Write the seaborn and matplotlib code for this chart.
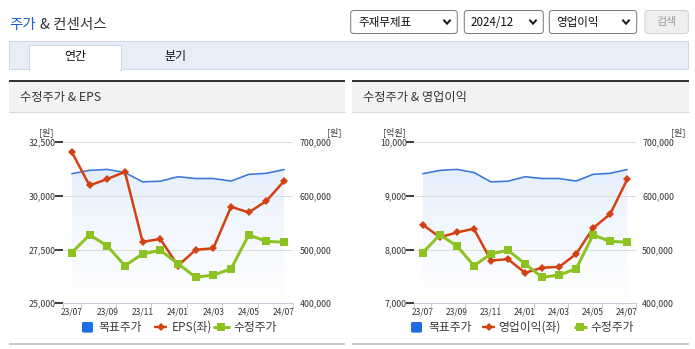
import numpy as np
import pandas as pd
import matplotlib
matplotlib.use('Agg')
import matplotlib.pyplot as plt
import seaborn as sns
from matplotlib.patches import Rectangle, FancyBboxPatch, PathPatch
from matplotlib.colors import LinearSegmentedColormap

# ---------------- data ----------------
months = ['23/07', '23/08', '23/09', '23/10', '23/11', '23/12', '24/01',
          '24/02', '24/03', '24/04', '24/05', '24/06', '24/07']
eps = [32040, 30490, 30790, 31120, 27865, 27995, 26750, 27490, 27565,
       29500, 29230, 29770, 30700]
op_income = [8465, 8230, 8320, 8390, 7796, 7823, 7568, 7663, 7678,
             7917, 8402, 8662, 9308]
adj_price = [494500, 527500, 507000, 470000, 492000, 498800, 473700,
             448500, 452600, 464300, 527500, 515300, 514000]
target_price = [641500, 647700, 649500, 643700, 626300, 627500, 635900,
                632500, 632500, 627800, 640300, 642200, 649300]

eps_ticks = [25000, 27500, 30000, 32500]
op_ticks = [7000, 8000, 9000, 10000]
price_ticks = [400000, 500000, 600000, 700000]

legend_labels_left = ['목표주가', 'EPS(좌)', '수정주가']
legend_labels_right = ['목표주가', '영업이익(좌)', '수정주가']

RED = '#d2410f'
GREEN = '#8cc322'
BLUE = '#3b76da'
BLUE_LEG = '#1f6de2'
TXT = '#333333'
AXC = '#c5cdd9'

sns.set_theme(style='white')
plt.rcParams['font.family'] = ['Noto Sans CJK KR', 'DejaVu Sans']
plt.rcParams['axes.unicode_minus'] = False

W, H = 695, 349
fig = plt.figure(figsize=(W / 100, H / 100), dpi=100)
fig.patch.set_facecolor('white')

bg = fig.add_axes([0, 0, 1, 1])
bg.set_xlim(0, W)
bg.set_ylim(H, 0)
bg.axis('off')


def pt(px):
    return px * 0.72


# ---------------- page header ----------------
bg.text(9, 25, '주가', color='#1d5fd4', fontsize=pt(14.5), va='center', ha='left')
bg.text(40, 25, '& 컨센서스', color=TXT, fontsize=pt(14.5), va='center', ha='left')

boxes = [(350.7, 457.3, '주재무제표', 358.3, 447), (464.3, 543.3, '2024/12', 471, 533),
         (549.3, 636.7, '영업이익', 556, 626)]
for bx0, bx1, label, tx, cx in boxes:
    bg.add_patch(FancyBboxPatch((bx0, 10.5), bx1 - bx0, 23, boxstyle='round,pad=0,rounding_size=3',
                                facecolor='white', edgecolor='#7a7a7a', linewidth=pt(1)))
    bg.text(tx, 22.3, label, fontsize=pt(11.6), color='#111111', va='center', ha='left')
    cy = 21.7
    bg.plot([cx - 3.6, cx, cx + 3.6], [cy - 2.0, cy + 2.0, cy - 2.0], color='#1a1a1a',
            lw=pt(2.0), solid_joinstyle='miter', solid_capstyle='butt')
bg.add_patch(FancyBboxPatch((645, 10.5), 43.3, 23, boxstyle='round,pad=0,rounding_size=3',
                            facecolor='#efefef', edgecolor='#d2d2d2', linewidth=pt(1)))
bg.text(666.7, 22.3, '검색', fontsize=pt(11), color='#9a9a9a', va='center', ha='center')

# tab bar
bg.add_patch(Rectangle((9, 40.7), 679.3, 28.6, facecolor='#e8eef9', edgecolor='#cfd8e6', linewidth=pt(1)))
bg.add_patch(Rectangle((29.3, 45), 91.4, 25, facecolor='white', edgecolor='#cfd8e6', linewidth=pt(1)))
bg.add_patch(Rectangle((29.8, 68.5), 90.4, 2, facecolor='white', edgecolor='none'))
bg.text(75.3, 56.7, '연간', fontsize=pt(12), color='#111111', va='center', ha='center')
bg.text(175.3, 56.7, '분기', fontsize=pt(12), color='#111111', va='center', ha='center')

# panels
for px0, px1, title in [(9, 345, '수정주가 & EPS'), (352, 689, '수정주가 & 영업이익')]:
    bg.add_patch(Rectangle((px0, 82), px1 - px0, 30, facecolor='#f2f2f2', edgecolor='none'))
    bg.add_patch(Rectangle((px0, 80), px1 - px0, 2.2, facecolor='#333333', edgecolor='none'))
    bg.plot([px0, px1], [112.3, 112.3], color='#d9d9d9', lw=pt(1))
    bg.add_patch(Rectangle((px0, 342.5), px1 - px0, 2.8, facecolor='#c9c9c9', edgecolor='none'))
    bg.text(px0 + 11, 97, title, fontsize=pt(12.2), color=TXT, va='center', ha='left')


# ---------------- charts ----------------
def chart(x0, x1, left_vals, left_ticks, left_unit, unit_left_x, unit_right_x, leg, labels):
    top, bot = 142.3, 303.3
    ax0 = fig.add_axes([x0 / W, 1 - bot / H, (x1 - x0) / W, (bot - top) / H])
    ax0.set_facecolor('none')
    idx = np.arange(len(months))
    df = pd.DataFrame({'idx': idx, 'left': left_vals, 'price': adj_price, 'target': target_price})

    # gradient area under target price
    poly = ax0.fill_between(idx, target_price, price_ticks[0], facecolor='none', edgecolor='none')
    patch = PathPatch(poly.get_paths()[0], transform=ax0.transData, facecolor='none', edgecolor='none')
    ax0.add_patch(patch)
    cmap = LinearSegmentedColormap.from_list('g', ['#ffffff', '#f2f7fe', '#ddeafb'])
    grad = np.linspace(0, 1, 256).reshape(-1, 1)
    im = ax0.imshow(grad, extent=[-0.5, 12.5, price_ticks[0], price_ticks[-1]], origin='lower',
                    aspect='auto', cmap=cmap, zorder=0.2, interpolation='bilinear')
    im.set_clip_path(patch)
    sns.lineplot(data=df, x='idx', y='target', ax=ax0, color=BLUE, linewidth=pt(1.6), zorder=3)

    ax0.set_ylim(price_ticks[0], price_ticks[-1])
    ax0.set_yticks(price_ticks)
    ax0.set_axisbelow(True)
    ax0.yaxis.grid(True, color='#dcdcdc', linewidth=pt(1))
    ax0.tick_params(axis='y', left=False, right=False, labelleft=False, labelright=False)
    ax0.set_xticks(idx[::2])
    ax0.set_xticklabels(months[::2])
    ax0.set_xticks([-0.5] + list(np.arange(0.5, 13, 2)), minor=True)
    ax0.tick_params(axis='x', which='major', length=0, pad=pt(4), labelsize=pt(8.4), labelcolor=TXT)
    ax0.tick_params(axis='x', which='minor', length=pt(4.5), width=pt(1), color=AXC, direction='out', bottom=True)
    for s in ['top', 'left', 'right']:
        ax0.spines[s].set_visible(False)
    ax0.spines['bottom'].set_color(AXC)
    ax0.spines['bottom'].set_linewidth(pt(1))
    ax0.set_xlabel('')
    ax0.set_ylabel('')

    # left-axis series (EPS / operating income)
    ax1 = ax0.twinx()
    sns.lineplot(data=df, x='idx', y='left', ax=ax1, color=RED, linewidth=pt(2.5),
                 marker='D', markersize=3.9, markeredgewidth=0)
    ax1.set_ylim(left_ticks[0], left_ticks[-1])
    ax1.yaxis.tick_left()
    ax1.set_yticks(left_ticks)
    ax1.set_yticklabels([f'{v:,}' for v in left_ticks])
    ax1.tick_params(axis='y', length=0, pad=pt(7.5), labelsize=pt(8.8), labelcolor=TXT)
    ax1.set_ylabel('')
    for s in ax1.spines.values():
        s.set_visible(False)

    # right-axis series (adjusted price)
    ax2 = ax0.twinx()
    sns.lineplot(data=df, x='idx', y='price', ax=ax2, color=GREEN, linewidth=pt(3),
                 marker='s', markersize=5.8, markeredgewidth=0)
    ax2.set_ylim(price_ticks[0], price_ticks[-1])
    ax2.yaxis.tick_right()
    ax2.set_yticks(price_ticks)
    ax2.set_yticklabels([f'{v:,}' for v in price_ticks])
    ax2.tick_params(axis='y', length=0, pad=pt(6.5), labelsize=pt(8.8), labelcolor=TXT)
    ax2.set_ylabel('')
    for s in ax2.spines.values():
        s.set_visible(False)

    ax0.set_xlim(-0.5, 12.5)

    # unit labels
    bg.text(unit_left_x, 132, left_unit, fontsize=pt(9), color=TXT, va='center', ha='right')
    bg.text(unit_right_x, 132.5, '[원]', fontsize=pt(9), color=TXT, va='center', ha='right')

    # legend
    (sq0, sq1, t1, r0, r1, t2, g0, g1, t3) = leg
    ly = 327.3
    bg.add_patch(FancyBboxPatch((sq0, ly - 5.3), sq1 - sq0, 10.6, boxstyle='round,pad=0,rounding_size=1.5',
                                facecolor=BLUE_LEG, edgecolor='none'))
    bg.text(t1, ly, labels[0], fontsize=pt(11.8), color='#3a3a3a', va='center', ha='left')
    bg.plot([r0, r1], [ly, ly], color=RED, lw=pt(2.3), solid_capstyle='butt')
    bg.plot([(r0 + r1) / 2], [ly], marker='D', color=RED, markersize=3.6, markeredgewidth=0)
    bg.text(t2, ly, labels[1], fontsize=pt(11.8), color='#3a3a3a', va='center', ha='left')
    bg.plot([g0, g1], [ly, ly], color=GREEN, lw=pt(3), solid_capstyle='butt')
    bg.plot([(g0 + g1) / 2], [ly], marker='s', color=GREEN, markersize=5.3, markeredgewidth=0)
    bg.text(t3, ly, labels[2], fontsize=pt(11.8), color='#3a3a3a', va='center', ha='left')


chart(63, 293, eps, eps_ticks, '[원]', 54, 342,
      (82, 93, 98, 154, 167, 172, 213, 229.5, 233), legend_labels_left)
chart(414.3, 635.7, op_income, op_ticks, '[억원]', 406, 686,
      (411, 422, 428, 482, 495, 498.5, 573.5, 587, 590.7), legend_labels_right)

fig.savefig('out.png', dpi=100, facecolor='white')
